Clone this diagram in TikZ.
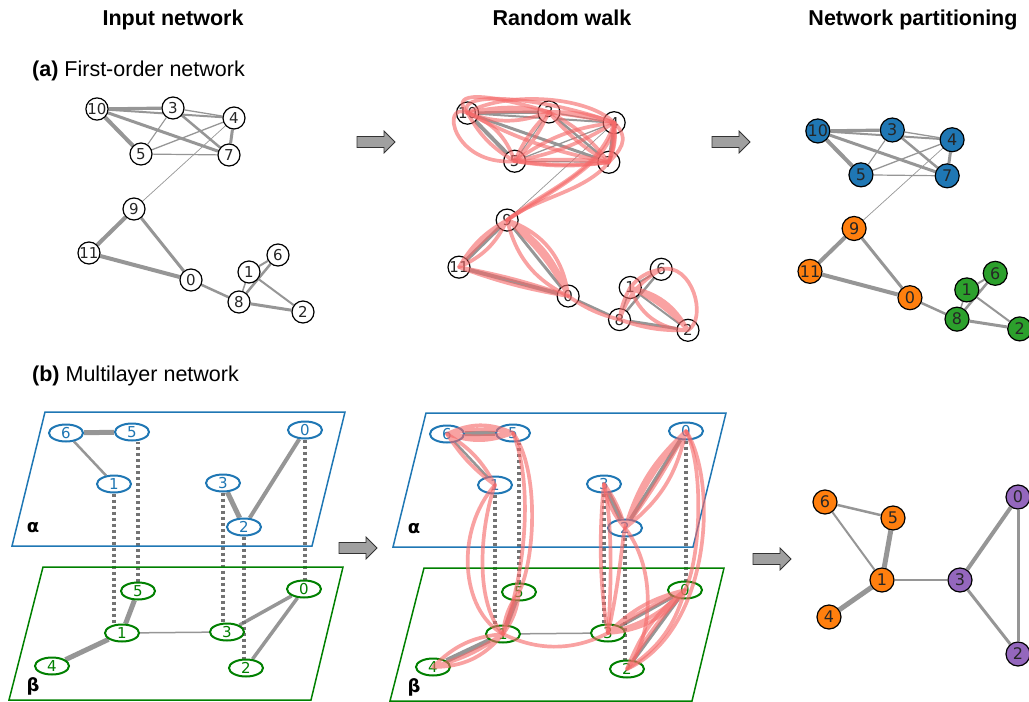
\documentclass[tikz,border=0pt]{standalone}
\usepackage{fontspec}
\setmainfont{Liberation Sans}
\newfontfamily\nodefont{DejaVu Sans}
\usetikzlibrary{shapes.geometric}

\definecolor{edgegrey}{RGB}{150,150,150}
\definecolor{dotgrey}{RGB}{115,115,115}
\definecolor{tabblue}{RGB}{31,119,180}
\definecolor{taborange}{RGB}{255,127,14}
\definecolor{tabgreen}{RGB}{44,160,44}
\definecolor{tabpurple}{RGB}{148,103,189}
\definecolor{layergreen}{RGB}{0,128,0}
\definecolor{walkpink}{RGB}{245,105,105}
\definecolor{arrowgrey}{RGB}{160,160,160}

\pgfdeclarelayer{edgelayer}
\pgfsetlayers{edgelayer,main}

\tikzset{
  fnode/.style={circle, draw=black, line width=1.2pt, fill=white, minimum size=22pt,
    inner sep=0pt, font=\nodefont\fontsize{15}{15}\selectfont, text=black!85},
  pnode/.style={fnode, minimum size=24pt, font=\nodefont\fontsize{16}{16}\selectfont},
  lnode/.style={ellipse, line width=2pt, fill=white, minimum width=34pt, minimum height=17pt,
    inner sep=0pt, font=\nodefont\fontsize{15}{15}\selectfont},
  bnode/.style={lnode, draw=tabblue, text=tabblue},
  gnode/.style={lnode, draw=layergreen, text=layergreen},
  ew/.style={draw=edgegrey, line width=#1},
  interlayer/.style={draw=dotgrey, line width=3.2pt, dash pattern=on 3pt off 3pt},
  layerA/.style={draw=tabblue, line width=1.5pt},
  layerB/.style={draw=layergreen, line width=1.5pt},
  layerlabel/.style={font=\nodefont\bfseries\fontsize{18}{18}\selectfont, inner sep=0pt},
  walk/.style={draw=walkpink, draw opacity=0.62, line width=3.7pt, line cap=round, line join=round},
  heading/.style={font=\bfseries\fontsize{21.5}{21.5}\selectfont, inner sep=0pt, anchor=base},
  panel/.style={font=\fontsize{21.5}{21.5}\selectfont, inner sep=0pt, anchor=base west},
  blockarrow/.pic={\draw[fill=arrowgrey, draw=black!80, line width=0.8pt]
    (0,-5.5) -- (27,-5.5) -- (27,-11) -- (38,0) -- (27,11) -- (27,5.5) -- (0,5.5) -- cycle;},
  p-10/.style={fill=tabblue}, p-3/.style={fill=tabblue}, p-4/.style={fill=tabblue},
  p-5/.style={fill=tabblue}, p-7/.style={fill=tabblue},
  p-9/.style={fill=taborange}, p-11/.style={fill=taborange}, p-0/.style={fill=taborange},
  p-1/.style={fill=tabgreen}, p-6/.style={fill=tabgreen}, p-8/.style={fill=tabgreen},
  p-2/.style={fill=tabgreen},
}

% first-order network: #1 name prefix, #2 node style, #3 placement of the layout
\newcommand\firstordernet[3]{%
  \begin{scope}[#3]
    \node[#2, #1-10/.try] (#1n10) at (97,109) {10};
    \node[#2, #1-3/.try]  (#1n3)  at (173,108) {3};
    \node[#2, #1-4/.try]  (#1n4)  at (234,118) {4};
    \node[#2, #1-5/.try]  (#1n5)  at (141,154) {5};
    \node[#2, #1-7/.try]  (#1n7)  at (229,155) {7};
    \node[#2, #1-9/.try]  (#1n9)  at (134,209) {9};
    \node[#2, #1-11/.try] (#1n11) at (89,253) {11};
    \node[#2, #1-0/.try]  (#1n0)  at (191,280) {0};
    \node[#2, #1-1/.try]  (#1n1)  at (249,272) {1};
    \node[#2, #1-6/.try]  (#1n6)  at (278,255) {6};
    \node[#2, #1-8/.try]  (#1n8)  at (239,302) {8};
    \node[#2, #1-2/.try]  (#1n2)  at (303,312) {2};
  \end{scope}
  \begin{pgfonlayer}{edgelayer}
    \draw[ew=3.2pt] (#1n10) -- (#1n3);
    \draw[ew=2pt]   (#1n10) -- (#1n4);
    \draw[ew=4pt]   (#1n10) -- (#1n5);
    \draw[ew=3pt]   (#1n10) -- (#1n7);
    \draw[ew=1.3pt] (#1n3) -- (#1n4);
    \draw[ew=1.1pt] (#1n3) -- (#1n5);
    \draw[ew=2.5pt] (#1n3) -- (#1n7);
    \draw[ew=1.3pt] (#1n4) -- (#1n5);
    \draw[ew=3pt]   (#1n4) -- (#1n7);
    \draw[ew=1.2pt] (#1n5) -- (#1n7);
    \draw[ew=0.7pt] (#1n4) -- (#1n9);
    \draw[ew=4pt]   (#1n9) -- (#1n11);
    \draw[ew=3pt]   (#1n9) -- (#1n0);
    \draw[ew=4pt]   (#1n11) -- (#1n0);
    \draw[ew=2.5pt] (#1n0) -- (#1n8);
    \draw[ew=1.5pt] (#1n8) -- (#1n1);
    \draw[ew=2.5pt] (#1n8) -- (#1n6);
    \draw[ew=2pt]   (#1n1) -- (#1n6);
    \draw[ew=2pt]   (#1n1) -- (#1n2);
    \draw[ew=3pt]   (#1n8) -- (#1n2);
  \end{pgfonlayer}}

% two-layer network with its interlayer links: #1 name prefix
\newcommand\twolayernet[1]{%
  \draw[layerA] (45,412) -- (345,412) -- (312,546) -- (12,546) -- cycle;
  \draw[layerB] (43,567) -- (343,567) -- (311,700) -- (9,700) -- cycle;
  \node[layerlabel] (#1alpha) at (33,528) {α};
  \node[layerlabel] (#1beta) at (33,686) {β};
  \node[bnode] (#1b6) at (66,433) {6};
  \node[bnode] (#1b5) at (132,432) {5};
  \node[bnode] (#1b0) at (305,430) {0};
  \node[bnode] (#1b1) at (114,484) {1};
  \node[bnode] (#1b3) at (223,483) {3};
  \node[bnode] (#1b2) at (244,527) {2};
  \node[gnode] (#1g5) at (138,591) {5};
  \node[gnode] (#1g0) at (304,589) {0};
  \node[gnode] (#1g1) at (122,633) {1};
  \node[gnode] (#1g3) at (227,632) {3};
  \node[gnode] (#1g4) at (52,666) {4};
  \node[gnode] (#1g2) at (246,668) {2};
  \begin{pgfonlayer}{edgelayer}
    \draw[ew=5pt]   (#1b6) -- (#1b5);
    \draw[ew=2.5pt] (#1b6) -- (#1b1);
    \draw[ew=5pt]   (#1b3) -- (#1b2);
    \draw[ew=4pt]   (#1b2) -- (#1b0);
    \draw[ew=5pt]   (#1g1) -- (#1g5);
    \draw[ew=5pt]   (#1g1) -- (#1g4);
    \draw[ew=1.5pt] (#1g1) -- (#1g3);
    \draw[ew=3.5pt] (#1g3) -- (#1g0);
    \draw[ew=3.5pt] (#1g0) -- (#1g2);
    \draw[interlayer] (#1b1.south) -- (#1b1.south |- #1g1.north);
    \draw[interlayer] (#1g5.north) -- (#1g5.north |- #1b5.south);
    \draw[interlayer] (#1b3.south) -- (#1b3.south |- #1g3.north);
    \draw[interlayer] (#1b2.south) -- (#1b2.south |- #1g2.north);
    \draw[interlayer] (#1b0.south) -- (#1b0.south |- #1g0.north);
  \end{pgfonlayer}}

\begin{document}
\begin{tikzpicture}[x=1pt, y=-1pt]
\useasboundingbox (0,0) rectangle (1029,702);

% column headings and panel titles
\node[heading] (h1) at (173,25) {Input network};
\node[heading] (h2) at (562,25) {Random walk};
\node[heading] (h3) at (913,25) {Network partitioning};
\node[panel] (pa) at (32,76) {\textbf{(a)} First-order network};
\node[panel] (pb) at (32,381) {\textbf{(b)} Multilayer network};

% (a) first-order network: input, walk, partition
\firstordernet{i}{fnode}{}
\firstordernet{r}{fnode}{shift={(459,112)}, scale=1.07, shift={(-89,-108)}}
\firstordernet{p}{pnode}{shift={(810,130)}, xscale=0.98, yscale=0.975, shift={(-89,-108)}}

% random walk trajectories on the first-order network
\draw[walk] (rn5.center) .. controls (452,166) and (440,100) .. (rn10.center)
  .. controls (500,92) and (585,94) .. (rn4.center)
  .. controls (632,140) and (618,152) .. (rn7.center)
  .. controls (580,158) and (540,160) .. (rn5.center);
\draw[walk] (rn10.center) .. controls (455,90) and (540,96) .. (rn4.center);
\draw[walk] (rn10.center) to[bend left=12] (rn3.center) to[bend left=10] (rn4.center) to[bend right=8] (rn10.center);
\draw[walk] (rn10.center) to[bend right=8] (rn7.center) to[bend right=12] (rn3.center) to[bend left=10] (rn5.center) to[bend left=15] (rn10.center);
\draw[walk] (rn5.center) to[bend right=10] (rn4.center) to[bend left=15] (rn7.center) to[bend left=8] (rn5.center) to[bend left=10] (rn3.center) to[bend left=20] (rn10.center);
\draw[walk] (rn10.center) .. controls (452,96) and (470,88) .. (rn3.center) to[bend right=10] (rn7.center) to[bend right=12] (rn4.center);
\draw[walk] (rn5.center) to[bend right=6] (rn7.center) to[bend right=5] (rn4.center) to[bend right=14] (rn5.center) to[bend right=25] (rn10.center);
\draw[walk] (rn4.center) .. controls (600,172) and (545,190) .. (rn9.center);
\draw[walk] (rn7.center) .. controls (585,192) and (535,198) .. (rn9.center);
\draw[walk] (rn4.center) .. controls (612,160) and (560,186) .. (rn9.center);
\draw[walk] (rn9.center) to[bend right=15] (rn11.center) to[bend right=20] (rn9.center) to[bend right=8] (rn11.center) to[bend left=6] (rn9.center);
\draw[walk] (rn9.center) to[bend left=20] (rn0.center) to[bend left=25] (rn9.center) to[bend left=10] (rn0.center) to[bend right=12] (rn9.center) to[bend left=32] (rn0.center);
\draw[walk] (rn11.center) to[bend right=5] (rn0.center) to[bend right=4] (rn11.center) to[bend left=3] (rn0.center);
\draw[walk] (rn0.center) to[bend right=10] (rn8.center);
\draw[walk] (rn8.center) to[bend left=10] (rn1.center) to[bend left=25] (rn2.center) to[bend left=8] (rn8.center)
  to[bend left=20] (rn6.center) .. controls (692,262) and (708,318) .. (rn2.center)
  to[bend right=20] (rn1.center) to[bend left=20] (rn6.center) to[bend right=20] (rn8.center) to[bend right=10] (rn2.center)
  to[bend left=35] (rn1.center) to[bend left=10] (rn2.center);

% (b) multilayer network: input and walk
\twolayernet{l}
\begin{scope}[shift={(381,1)}]
  \twolayernet{m}
\end{scope}

% random walk trajectories on the multilayer network
\draw[walk] (mb6.center) to[bend left=25] (mb5.center) to[bend left=20] (mb6.center) to[bend left=12] (mb5.center) to[bend left=8] (mb6.center);
\draw[walk] (mb6.center) to[bend right=10] (mb1.center) to[bend right=15] (mb6.center);
\draw[walk] (mb1.center) .. controls (455,530) and (460,610) .. (mg1.center);
\draw[walk] (mb1.center) .. controls (482,520) and (472,600) .. (mg1.center);
\draw[walk] (mb5.center) .. controls (540,470) and (535,560) .. (mg5.center);
\draw[walk] (mb5.center) .. controls (532,480) and (528,565) .. (mg1.center);
\draw[walk] (mg5.center) to[bend left=15] (mg1.center) to[bend left=15] (mg5.center) to[bend left=5] (mg1.center);
\draw[walk] (mg1.center) to[bend right=20] (mg4.center) to[bend right=25] (mg1.center) to[bend left=10] (mg4.center) to[bend right=8] (mg1.center);
\draw[walk] (mg1.center) .. controls (540,652) and (575,650) .. (mg3.center);
\draw[walk] (mg3.center) .. controls (598,580) and (600,520) .. (mb3.center);
\draw[walk] (mg3.center) .. controls (612,580) and (612,520) .. (mb3.center);
\draw[walk] (mg3.center) .. controls (620,580) and (622,540) .. (mb2.center);
\draw[walk] (mb3.center) to[bend left=10] (mb2.center) to[bend left=15] (mb3.center);
\draw[walk] (mb2.center) to[bend left=15] (mb0.center) to[bend left=20] (mb2.center) to[bend left=8] (mb0.center) to[bend left=4] (mb2.center);
\draw[walk] (mb0.center) .. controls (718,480) and (712,630) .. (mg2.center);
\draw[walk] (mb0.center) .. controls (705,470) and (700,560) .. (mg0.center);
\draw[walk] (mb2.center) .. controls (658,570) and (652,640) .. (mg2.center);
\draw[walk] (mg3.center) to[bend left=15] (mg0.center) to[bend left=15] (mg3.center) to[bend left=5] (mg0.center) to[bend left=25] (mg3.center);
\draw[walk] (mg0.center) to[bend right=15] (mg2.center) to[bend right=20] (mg0.center) to[bend right=5] (mg2.center);

% (b) aggregated partition
\node[pnode, fill=taborange] (q6) at (825,502) {6};
\node[pnode, fill=taborange] (q5) at (893,518) {5};
\node[pnode, fill=taborange] (q1) at (882,580) {1};
\node[pnode, fill=taborange] (q4) at (829,617) {4};
\node[pnode, fill=tabpurple] (q3) at (960,580) {3};
\node[pnode, fill=tabpurple] (q0) at (1018,497) {0};
\node[pnode, fill=tabpurple] (q2) at (1018,654) {2};
\begin{pgfonlayer}{edgelayer}
  \draw[ew=2.5pt] (q6) -- (q5);
  \draw[ew=2pt]   (q6) -- (q1);
  \draw[ew=5pt]   (q5) -- (q1);
  \draw[ew=5pt]   (q4) -- (q1);
  \draw[ew=1.5pt] (q1) -- (q3);
  \draw[ew=4pt]   (q3) -- (q0);
  \draw[ew=3pt]   (q3) -- (q2);
  \draw[ew=3pt]   (q0) -- (q2);
\end{pgfonlayer}

% process arrows
\pic at (357,142) {blockarrow};
\pic at (712,142) {blockarrow};
\pic at (339,548) {blockarrow};
\pic at (753,559) {blockarrow};
\end{tikzpicture}
\end{document}
